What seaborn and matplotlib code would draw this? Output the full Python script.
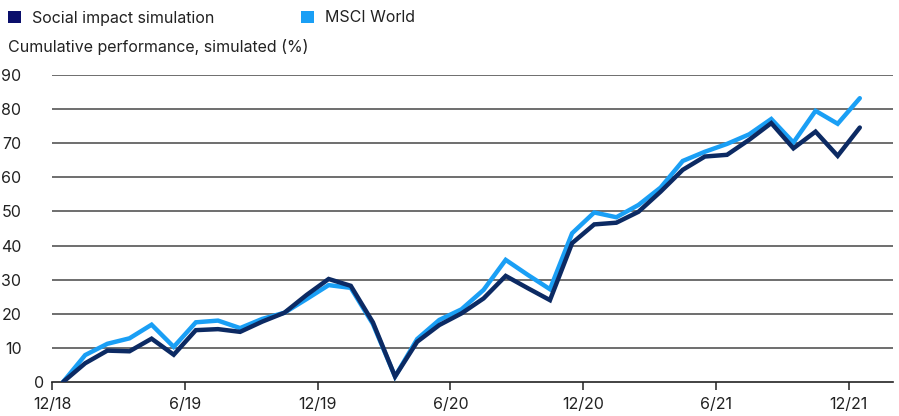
import matplotlib
matplotlib.use("Agg")
import matplotlib.pyplot as plt
from matplotlib.patches import Patch
import seaborn as sns
import numpy as np
import pandas as pd

months = list(range(37))
social = [0, 5.5, 9.2, 9.0, 12.7, 8.0, 15.2, 15.5, 14.7, 17.7, 20.3, 25.5, 30.2,
          28.2, 17.5, 1.6, 11.8, 16.7, 20.1, 24.5, 31.1, 27.5, 24.0, 40.7, 46.2,
          46.7, 49.9, 55.8, 62.2, 66.1, 66.6, 71.0, 75.9, 68.5, 73.4, 66.3, 74.6]
msci = [0, 7.9, 11.2, 12.8, 16.8, 10.3, 17.5, 18.0, 15.8, 18.5, 20.3, 24.3, 28.4,
        27.6, 17.0, 1.6, 12.6, 18.2, 21.3, 27.0, 35.8, 31.4, 27.2, 43.6, 49.7,
        48.3, 51.9, 57.0, 64.8, 67.5, 69.8, 72.6, 77.1, 70.2, 79.5, 75.7, 83.2]
tick_labels = ["12/18", "6/19", "12/19", "6/20", "12/20", "6/21", "12/21"]
series_names = ["Social impact simulation", "MSCI World"]
y_ticks = [0, 10, 20, 30, 40, 50, 60, 70, 80, 90]

df = pd.DataFrame({
    "month": months * 2,
    "value": social + msci,
    "series": [series_names[0]] * len(social) + [series_names[1]] * len(msci),
})

sns.set_theme(style="white")
plt.rcParams["font.family"] = ["Inter", "DejaVu Sans"]

dark = "#0c2a63"
light = "#1a9ff5"
txt = "#222222"

fig = plt.figure(figsize=(8.99, 4.16), dpi=100)
ax = fig.add_axes([52 / 899, 1 - 382 / 416, (893 - 52) / 899, (382 - 75) / 416])

sns.lineplot(data=df, x="month", y="value", hue="series",
             palette={series_names[0]: dark, series_names[1]: light},
             hue_order=[series_names[1], series_names[0]],
             linewidth=3.2, legend=False, ax=ax, zorder=3)
for line in ax.lines:
    line.set_solid_capstyle("round")
    line.set_solid_joinstyle("miter")

ax.set_xlim(-0.5, 37.5)
ax.set_ylim(0, 90)
ax.set_yticks(y_ticks)
# the "0" label sits closer to the axis in the reference; drawn separately below
ax.set_yticklabels(["" if v == 0 else str(v) for v in y_ticks])
ax.set_xticks([-0.5 + 6 * k for k in range(len(tick_labels))])
ax.set_xticklabels(tick_labels)
ax.set_xlabel("")
ax.set_ylabel("")

for v in y_ticks[1:]:
    ax.axhline(v, color="#555555", linewidth=1.2, zorder=1)

for s in ["top", "right", "left"]:
    ax.spines[s].set_visible(False)
ax.spines["bottom"].set_color(txt)
ax.spines["bottom"].set_linewidth(1.2)

ax.tick_params(axis="y", length=0, pad=22, labelsize=11.5, labelcolor=txt)
ax.tick_params(axis="x", length=6, width=1.1, color=txt, direction="out",
               bottom=True, pad=5, labelsize=11.5, labelcolor=txt)

ax.annotate("0", xy=(0, y_ticks[0]), xycoords=("axes fraction", "data"),
            xytext=(-8, 0), textcoords="offset pixels", ha="right",
            va="center_baseline", fontsize=11.5, color=txt)

fig.text(8 / 899, 1 - 47 / 416, "Cumulative performance, simulated (%)",
         fontsize=11.5, color=txt, va="center", ha="left")

handles = [Patch(facecolor="#0a0f6b", edgecolor="none"),
           Patch(facecolor=light, edgecolor="none")]
leg = fig.legend(handles, series_names, loc="center left",
                 bbox_to_anchor=(2 / 899, 1 - 18 / 416), ncol=2, frameon=False,
                 fontsize=11.5, handlelength=0.8, handleheight=0.8,
                 handletextpad=0.7, columnspacing=5.4, borderaxespad=0,
                 labelcolor=txt)

fig.savefig("out.png", dpi=100)
